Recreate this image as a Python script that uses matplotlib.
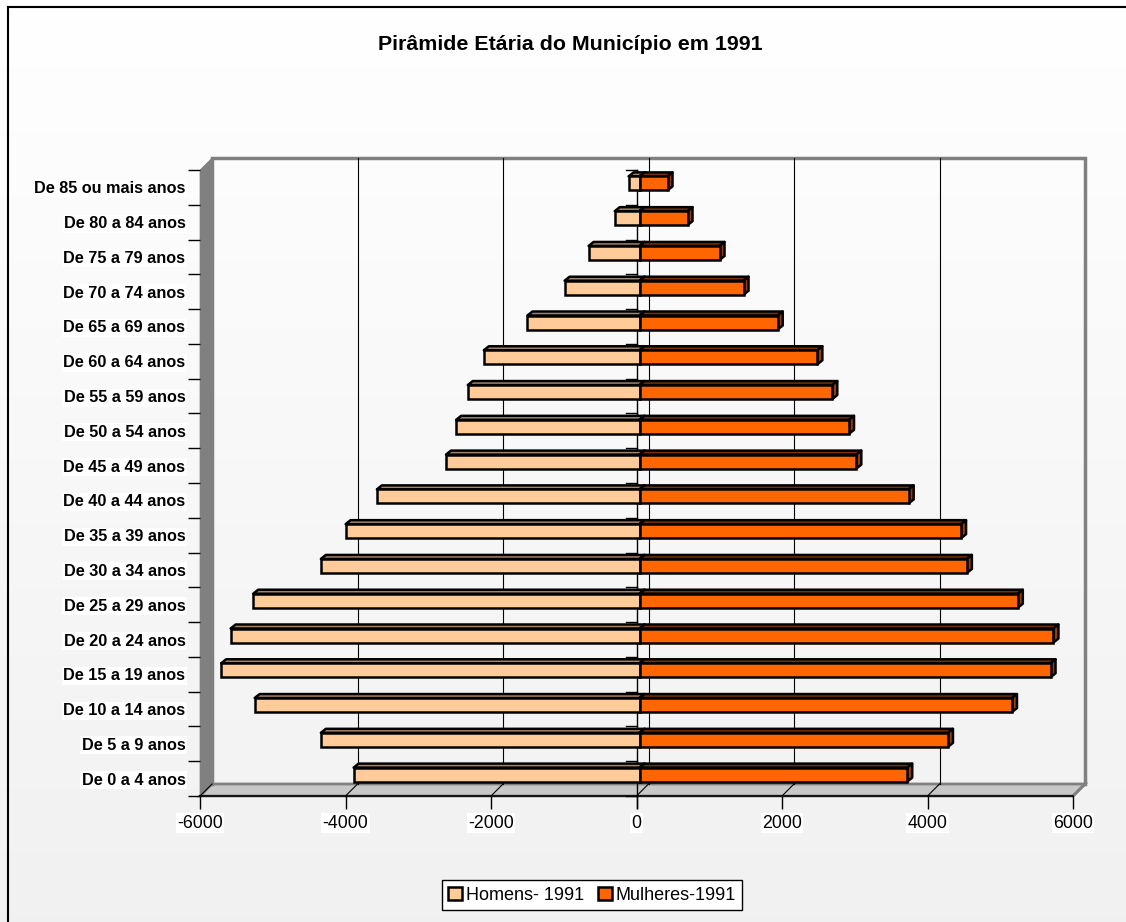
import numpy as np
import matplotlib
matplotlib.use("Agg")
import matplotlib.pyplot as plt
from matplotlib.patches import Polygon
from matplotlib.lines import Line2D
from matplotlib.patches import Patch

plt.rcParams['font.family'] = ['Liberation Sans', 'DejaVu Sans']

categories = ["De 0 a 4 anos", "De 5 a 9 anos", "De 10 a 14 anos", "De 15 a 19 anos",
              "De 20 a 24 anos", "De 25 a 29 anos", "De 30 a 34 anos", "De 35 a 39 anos",
              "De 40 a 44 anos", "De 45 a 49 anos", "De 50 a 54 anos", "De 55 a 59 anos",
              "De 60 a 64 anos", "De 65 a 69 anos", "De 70 a 74 anos", "De 75 a 79 anos",
              "De 80 a 84 anos", "De 85 ou mais anos"]
homens = [-3930, -4380, -5290, -5750, -5620, -5310, -4380, -4040, -3610,
          -2660, -2520, -2360, -2140, -1540, -1030, -700, -340, -150]
mulheres = [3680, 4240, 5120, 5650, 5690, 5200, 4500, 4420, 3700,
            2980, 2880, 2650, 2445, 1900, 1430, 1100, 660, 385]
xticks = [-6000, -4000, -2000, 0, 2000, 4000, 6000]
title = "Pirâmide Etária do Município em 1991"
labels = ["Homens- 1991", "Mulheres-1991"]

W, H, DPI = 1126, 922, 100
fig = plt.figure(figsize=(W / DPI, H / DPI), dpi=DPI)

# background gradient
bg = fig.add_axes([0, 0, 1, 1], zorder=-10)
grad = np.linspace(1.0, 0.945, 256).reshape(-1, 1)
bg.imshow(np.dstack([grad, grad, grad]), aspect='auto', extent=[0, 1, 0, 1])
bg.set_axis_off()
# outer border
fig.add_artist(Line2D([8 / W, 8 / W], [0, 1 - 7 / H], color='black', lw=1.5))
fig.add_artist(Line2D([8 / W, 1], [1 - 7 / H, 1 - 7 / H], color='black', lw=1.5))

L, R, B, T = 200, 1073, 796, 170
ax = fig.add_axes([L / W, 1 - B / H, (R - L) / W, (B - T) / H])
ax.set_facecolor('none')
xmin, xmax = -6000, 6000
ymin, ymax = -0.5, len(categories) - 0.5
ax.set_xlim(xmin, xmax)
ax.set_ylim(ymin, ymax)
px = (xmax - xmin) / (R - L)
py = (ymax - ymin) / (B - T)
D = 12  # depth in px
dX, dY = D * px, D * py

# left wall
ax.add_patch(Polygon([(xmin, ymin), (xmin, ymax), (xmin + dX, ymax + dY), (xmin + dX, ymin + dY)],
                     closed=True, facecolor='#808080', edgecolor='#808080', lw=0.5, clip_on=False, zorder=1))
# floor
ax.add_patch(Polygon([(xmin, ymin), (xmax, ymin), (xmax + dX, ymin + dY), (xmin + dX, ymin + dY)],
                     closed=True, facecolor='#c8c8c8', edgecolor='#808080', lw=2, clip_on=False, zorder=1))
# back wall border
ax.plot([xmin + dX, xmin + dX, xmax + dX, xmax + dX], [ymin + dY, ymax + dY, ymax + dY, ymin + dY],
        color='#808080', lw=2.5, clip_on=False, zorder=1, solid_joinstyle='miter')
# gridlines on back wall
for xv in xticks[1:-1]:
    ax.plot([xv + dX, xv + dX], [ymin + dY, ymax + dY], color='black', lw=0.8, clip_on=False, zorder=1.5)
    ax.plot([xv, xv + dX], [ymin, ymin + dY], color='black', lw=0.8, clip_on=False, zorder=1.5)
ax.plot([xmin, xmin + dX], [ymin, ymin + dY], color='black', lw=0.8, clip_on=False, zorder=1.5)
ax.plot([xmax, xmax + dX], [ymin, ymin + dY], color='#808080', lw=2, clip_on=False, zorder=1.5)

# y axis at zero
ax.plot([0, 0], [ymin - 12 * py, ymax], color='black', lw=1, clip_on=False, zorder=2)
for b in np.arange(ymin, ymax + 0.01, 1.0):
    ax.plot([-11 * px, 0], [b, b], color='black', lw=1, clip_on=False, zorder=2)

# bars
bh = 14 * py
ox, oy = 3 * px, 4 * py
bdx, bdy = 5 * px, 4 * py
y = np.arange(len(categories))


def bar3d(vals, front, top, side, z):
    rects = ax.barh(y + oy, vals, height=bh, left=ox, color=front, edgecolor='black',
                    linewidth=1.8, zorder=z + 0.2)
    for yc, v in zip(y + oy, vals):
        x0, x1 = sorted([ox, ox + v])
        yt, yb = yc + bh / 2, yc - bh / 2
        ax.add_patch(Polygon([(x0, yt), (x1, yt), (x1 + bdx, yt + bdy), (x0 + bdx, yt + bdy)],
                             closed=True, facecolor=top, edgecolor='black', lw=1.8, zorder=z,
                             joinstyle='round'))
        ax.add_patch(Polygon([(x1, yb), (x1, yt), (x1 + bdx, yt + bdy), (x1 + bdx, yb + bdy)],
                             closed=True, facecolor=side, edgecolor='black', lw=1.8, zorder=z,
                             joinstyle='round'))
    return rects


bar3d(homens, '#FFCC99', '#A6846A', '#B08B6B', 3)
bar3d(mulheres, '#FF6600', '#7A3000', '#993D00', 4)

# axes styling
for s in ['left', 'right', 'top']:
    ax.spines[s].set_visible(False)
ax.spines['bottom'].set_linewidth(1.2)
ax.spines['bottom'].set_zorder(2)
ax.set_xticks(xticks)
ax.set_xticklabels([str(v) for v in xticks], fontsize=12.8)
ax.tick_params(axis='x', direction='out', length=9.4, width=1, pad=4)
for t in ax.get_xticklabels():
    t.set_bbox(dict(facecolor='white', edgecolor='none', pad=1))
ax.set_yticks(np.arange(ymin, ymax + 0.01, 1.0))
ax.set_yticklabels([])
ax.tick_params(axis='y', which='major', direction='out', length=8.6, width=1)
ax.set_yticks(y, minor=True)
ax.set_yticklabels(categories, minor=True, fontsize=11.7, fontweight='bold')
ax.tick_params(axis='y', which='minor', length=0, pad=10.5)
for t in ax.get_yticklabels(minor=True):
    t.set_bbox(dict(facecolor='white', edgecolor='none', pad=1))

fig.text(570 / W, 1 - 45 / H, title, ha='center', va='center', fontsize=15.4, fontweight='bold')

handles = [Patch(facecolor='#FFCC99', edgecolor='black', lw=1.8),
           Patch(facecolor='#FF6600', edgecolor='black', lw=1.8)]
leg = fig.legend(handles, labels, loc='center', bbox_to_anchor=(592 / W, 1 - 895 / H), ncol=2,
                 fontsize=13, frameon=True, fancybox=False, edgecolor='black', facecolor='white',
                 framealpha=1, handlelength=0.75, handleheight=0.75, handletextpad=0.2,
                 columnspacing=0.8, borderpad=0.35, borderaxespad=0)
leg.get_frame().set_linewidth(1)

fig.savefig('out.png', dpi=DPI)
